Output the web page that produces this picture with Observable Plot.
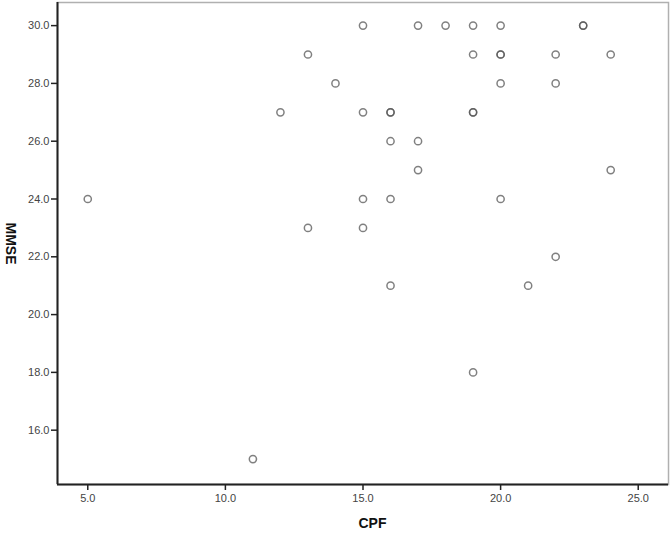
<!DOCTYPE html>
<html>
<head>
<meta charset="utf-8">
<script src="https://cdn.jsdelivr.net/npm/d3@7"></script>
<script src="https://cdn.jsdelivr.net/npm/@observablehq/plot@0.6"></script>
<style>
  html, body { margin: 0; padding: 0; background: #fff; }
  svg { display: block; }
</style>
</head>
<body>
<div id="chart"></div>
<script>
const cpf  = [15,17,18,19,20,23,23, 13,19,20,20,22,24, 14,20,22, 12,15,16,16,19,19, 16,17, 17,24, 5,15,16,20, 13,15, 22, 16,21, 19, 11];
const mmse = [30,30,30,30,30,30,30, 29,29,29,29,29,29, 28,28,28, 27,27,27,27,27,27, 26,26, 25,25, 24,24,24,24, 23,23, 22, 21,21, 18, 15];
const xTicks = [5, 10, 15, 20, 25];
const yTicks = [16, 18, 20, 22, 24, 26, 28, 30];
const xLabel = "CPF";
const yLabel = "MMSE";

const data = cpf.map((c, i) => ({cpf: c, mmse: mmse[i]}));
const xDomain = [3.9, 26.1];
const yDomain = [14.12, 30.8];
const fmt = d => d.toFixed(1);

const chart = Plot.plot({
  width: 671,
  height: 534,
  marginLeft: 57,
  marginRight: 3,
  marginTop: 2,
  marginBottom: 50,
  style: {fontFamily: "Liberation Sans, Arial, sans-serif", fontSize: "11px", color: "#444", background: "#fff"},
  x: {domain: xDomain, label: null},
  y: {domain: yDomain, label: null},
  marks: [
    Plot.frame({stroke: "#b0b0b0", strokeWidth: 1.5}),
    Plot.axisX({ticks: xTicks, tickFormat: fmt, tickSize: 6, tickPadding: 4, stroke: "#222", strokeWidth: 1.5, label: null}),
    Plot.axisY({ticks: yTicks, tickFormat: fmt, tickSize: 6, tickPadding: 2, stroke: "#222", strokeWidth: 1.5, label: null}),
    Plot.ruleX([xDomain[0]], {stroke: "#222", strokeWidth: 2}),
    Plot.ruleY([yDomain[0]], {stroke: "#222", strokeWidth: 2}),
    Plot.dot(data, {x: "cpf", y: "mmse", r: 3.6, stroke: "#555", strokeWidth: 1.5, strokeOpacity: 0.75, fill: "none"}),
    Plot.text([xLabel], {frameAnchor: "bottom-left", dx: 301, dy: 43, fontWeight: "bold", fontSize: 14, fill: "#111"}),
    Plot.text([yLabel], {frameAnchor: "left", dx: -47, dy: -21, rotate: 90, fontWeight: "bold", fontSize: 14, fill: "#111"})
  ]
});
document.getElementById("chart").appendChild(chart);
</script>
</body>
</html>
